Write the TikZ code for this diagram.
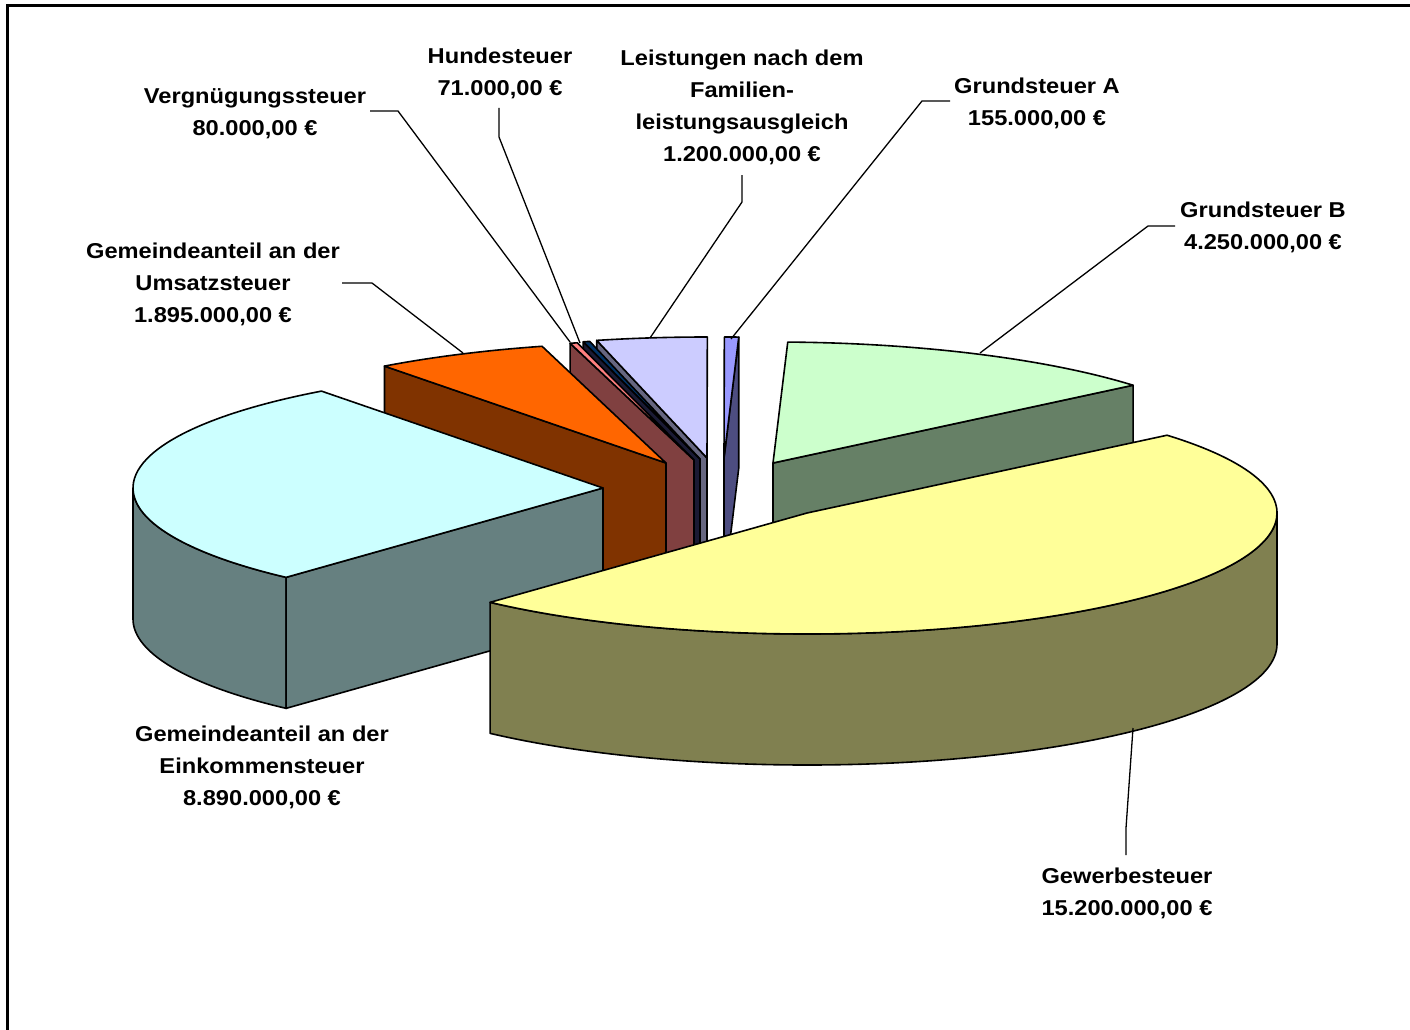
\documentclass[tikz,border=0pt]{standalone}
\usepackage{fontspec}
\setmainfont{Liberation Sans}[FakeStretch=1.1]
\usetikzlibrary{calc}

\definecolor{gbTop}{HTML}{CCFFCC}
\definecolor{gbSide}{HTML}{668066}
\definecolor{gaTop}{HTML}{9999FF}
\definecolor{gaSide}{HTML}{4D4D80}
\definecolor{faTop}{HTML}{CCCCFF}
\definecolor{faSide}{HTML}{666680}
\definecolor{huTop}{HTML}{003366}
\definecolor{huSide}{HTML}{1A1A33}
\definecolor{vgTop}{HTML}{FF8080}
\definecolor{vgSide}{HTML}{804040}
\definecolor{usTop}{HTML}{FF6600}
\definecolor{usSide}{HTML}{803300}
\definecolor{ekTop}{HTML}{CCFFFF}
\definecolor{ekSide}{HTML}{668080}
\definecolor{gwTop}{HTML}{FFFF99}
\definecolor{gwSide}{HTML}{808050}

\begin{document}
\begin{tikzpicture}[
    x=1pt, y=-1pt,
    font=\fontsize{21.5}{32}\selectfont\bfseries,
    piece/.style={draw=black, line width=1.6pt, line join=round, fill=#1},
    rim/.style={x radius=470pt, y radius=121pt},
    leader/.style={draw=black, line width=1.3pt},
    tag/.style={align=center, anchor=north, inner sep=0pt}
]
    \useasboundingbox (0,0) rectangle (1410,1030);
    \draw[line width=3pt] (7,1030) -- (7,6) -- (1410,6);

    % ==========================================
    % APEX POINTS (each slice pulled out)
    % ==========================================
    \coordinate (gb) at (773,463);
    \coordinate (ga) at (724,458);
    \coordinate (fa) at (707,458);
    \coordinate (hu) at (700,459);
    \coordinate (vg) at (694,460);
    \coordinate (us) at (666,463);
    \coordinate (ek) at (603,488);
    \coordinate (gw) at (807,513);

    % ==========================================
    % BACK SLICES (right to left)
    % ==========================================
    % Grundsteuer B
    \draw[piece=gbSide] (gb) -- ($(gb)+(40:470pt and 121pt)$) -- ++(0,131) -- ($(gb)+(0,131)$) -- cycle;
    \draw[piece=gbTop] (gb) -- ($(gb)+(40:470pt and 121pt)$) arc[rim, start angle=40, end angle=88.2] -- cycle;

    % Grundsteuer A
    \draw[piece=gaSide] (ga) -- ($(ga)+(88.2:470pt and 121pt)$) -- ++(0,131) -- ($(ga)+(0,131)$) -- cycle;
    \draw[piece=gaTop] (ga) -- ($(ga)+(88.2:470pt and 121pt)$) arc[rim, start angle=88.2, end angle=89.96] -- cycle;

    % Familienleistungsausgleich
    \draw[piece=faSide] (fa) -- ($(fa)+(103.57:470pt and 121pt)$) -- ++(0,131) -- ($(fa)+(0,131)$) -- cycle;
    \draw[piece=faTop] (fa) -- ($(fa)+(89.96:470pt and 121pt)$) arc[rim, start angle=89.96, end angle=103.57] -- cycle;

    % Hundesteuer
    \draw[piece=huSide] (hu) -- ($(hu)+(104.38:470pt and 121pt)$) -- ++(0,131) -- ($(hu)+(0,131)$) -- cycle;
    \draw[piece=huTop] (hu) -- ($(hu)+(103.57:470pt and 121pt)$) arc[rim, start angle=103.57, end angle=104.38] -- cycle;

    % Vergnuegungssteuer
    \draw[piece=vgSide] (vg) -- ($(vg)+(105.29:470pt and 121pt)$) -- ++(0,131) -- ($(vg)+(0,131)$) -- cycle;
    \draw[piece=vgTop] (vg) -- ($(vg)+(104.38:470pt and 121pt)$) arc[rim, start angle=104.38, end angle=105.29] -- cycle;

    % Umsatzsteuer
    \draw[piece=usSide] (us) -- ($(us)+(126.8:470pt and 121pt)$) -- ++(0,131) -- ($(us)+(0,131)$) -- cycle;
    \draw[piece=usTop] (us) -- ($(us)+(105.29:470pt and 121pt)$) arc[rim, start angle=105.29, end angle=126.8] -- cycle;

    % ==========================================
    % FRONT SLICES
    % ==========================================
    % Einkommensteuer
    \draw[piece=ekSide] ($(ek)+(180:470pt and 121pt)$) arc[rim, start angle=180, end angle=227.6]
        -- ++(0,131) arc[rim, start angle=227.6, end angle=180] -- cycle;
    \draw[piece=ekSide] (ek) -- ($(ek)+(227.6:470pt and 121pt)$) -- ++(0,131) -- ($(ek)+(0,131)$) -- cycle;
    \draw[piece=ekTop] (ek) -- ($(ek)+(126.8:470pt and 121pt)$) arc[rim, start angle=126.8, end angle=227.6] -- cycle;

    % Gewerbesteuer
    \draw[piece=gwSide] ($(gw)+(227.6:470pt and 121pt)$) arc[rim, start angle=227.6, end angle=360]
        -- ++(0,131) arc[rim, start angle=360, end angle=227.6] -- cycle;
    \draw[piece=gwTop] (gw) -- ($(gw)+(40:470pt and 121pt)$) arc[rim, start angle=40, end angle=-132.4] -- cycle;

    % ==========================================
    % LABELS
    % ==========================================
    \node[tag] (l_hu) at (500,48)  {Hundesteuer\\71.000,00 €};
    \node[tag] (l_vg) at (255,88)  {Vergnügungssteuer\\80.000,00 €};
    \node[tag] (l_us) at (213,243) {Gemeindeanteil an der\\Umsatzsteuer\\1.895.000,00 €};
    \node[tag] (l_fa) at (742,50)  {Leistungen nach dem\\Familien-\\leistungsausgleich\\1.200.000,00 €};
    \node[tag] (l_ga) at (1037,78) {Grundsteuer A\\155.000,00 €};
    \node[tag] (l_gb) at (1263,202) {Grundsteuer B\\4.250.000,00 €};
    \node[tag] (l_ek) at (262,726) {Gemeindeanteil an der\\Einkommensteuer\\8.890.000,00 €};
    \node[tag] (l_gw) at (1127,868) {Gewerbesteuer\\15.200.000,00 €};

    % Leader lines
    \coordinate (vg_a) at (370,111);  \coordinate (vg_b) at (398,111);  \coordinate (vg_c) at (570,342);
    \coordinate (hu_a) at (499,108);  \coordinate (hu_b) at (499,137);  \coordinate (hu_c) at (580,343);
    \coordinate (us_a) at (342,283);  \coordinate (us_b) at (372,283);  \coordinate (us_c) at (463,353);
    \coordinate (fa_a) at (742,175);  \coordinate (fa_b) at (742,202);  \coordinate (fa_c) at (650,338);
    \coordinate (ga_a) at (950,101);  \coordinate (ga_b) at (922,101);  \coordinate (ga_c) at (731,339);
    \coordinate (gb_a) at (1175,226); \coordinate (gb_b) at (1148,226); \coordinate (gb_c) at (980,353);
    \coordinate (gw_a) at (1126,855); \coordinate (gw_b) at (1126,828); \coordinate (gw_c) at (1133,728);

    \draw[leader] (vg_a) -- (vg_b) -- (vg_c);
    \draw[leader] (hu_a) -- (hu_b) -- (hu_c);
    \draw[leader] (us_a) -- (us_b) -- (us_c);
    \draw[leader] (fa_a) -- (fa_b) -- (fa_c);
    \draw[leader] (ga_a) -- (ga_b) -- (ga_c);
    \draw[leader] (gb_a) -- (gb_b) -- (gb_c);
    \draw[leader] (gw_a) -- (gw_b) -- (gw_c);

\end{tikzpicture}
\end{document}
